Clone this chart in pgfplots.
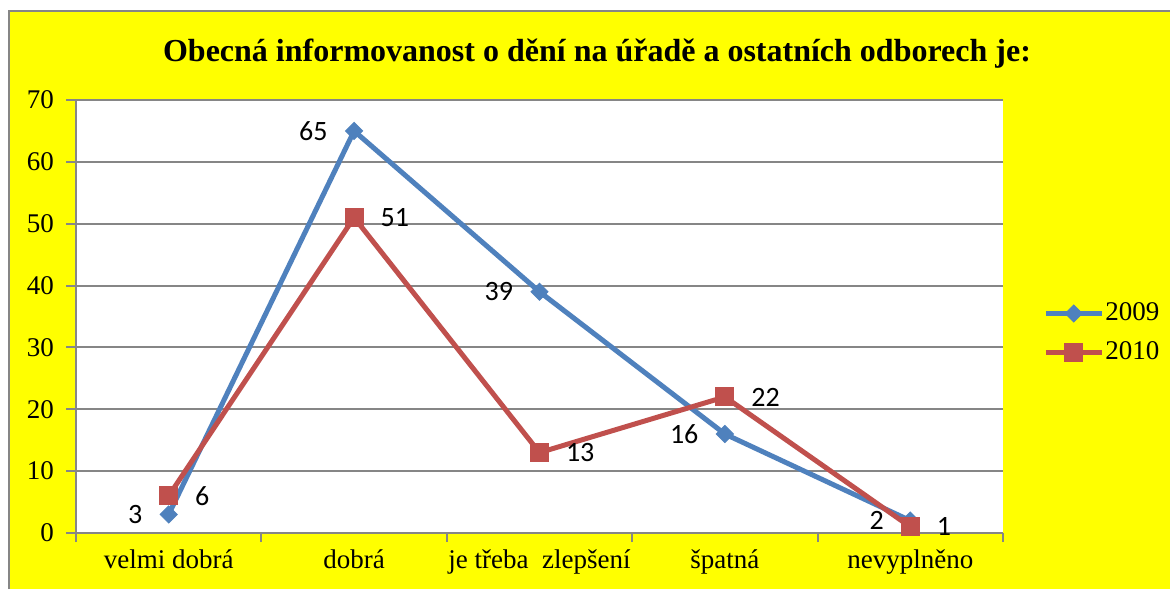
\documentclass[border=0pt]{standalone}
\usepackage{pgfplots}
\pgfplotsset{compat=1.18}
\usepackage{fontspec}
\setmainfont{Liberation Serif}
\newfontfamily\calibri{Carlito}
\definecolor{blue09}{HTML}{4F81BD}
\definecolor{red10}{HTML}{C0504D}
\definecolor{yel}{HTML}{FFFF00}
\definecolor{gridgray}{HTML}{868686}
\begin{document}
\begin{tikzpicture}[x=1pt,y=1pt]
% 1 px of the reference = 0.5pt, origin at the plot area's lower left corner
\useasboundingbox (-38,-28) rectangle (547,266.5);
\fill[yel] (-33.5,-28) rectangle (547,261);
\draw[gridgray, line width=0.8pt] (-33.5,-28) -- (-33.5,261) -- (547,261);
\begin{axis}[
    at={(0,0)}, anchor=south west,
    scale only axis, width=463.5pt, height=216.5pt,
    axis background/.style={fill=white},
    xmin=0, xmax=5, ymin=0, ymax=70,
    xtick={0.5,1.5,2.5,3.5,4.5},
    xticklabels={velmi dobrá, dobrá, je třeba\ \ zlepšení, špatná, nevyplněno},
    minor xtick={0,1,2,3,4,5},
    ytick={0,10,...,70},
    axis lines*=left,
    axis line style={gridgray, line width=1pt},
    ymajorgrids, grid style={gridgray, line width=1pt},
    tick align=outside,
    tick style={gridgray, line width=1pt},
    major tick length=5pt, minor tick length=4.5pt,
    major x tick style={draw=none},
    /pgf/number format/assume math mode=true,
    tick label style={font=\fontsize{13.5}{15}\selectfont, text=black},
    yticklabel style={xshift=-2.5pt},
    legend style={at={(1.043,0.462)}, anchor=west, draw=none, fill=none,
        font=\fontsize{13.5}{15}\selectfont, row sep=8pt, inner sep=0pt,
        nodes={inner sep=0.5pt}},
    legend cell align=left,
    legend image code/.code={\draw[mark repeat=2, mark phase=2]
        plot coordinates {(0pt,0pt) (14pt,0pt) (28pt,0pt)};},
    nodes near coords,
    clip=false,
]
\addplot[blue09, line width=2.5pt, mark=square*, mark size=3pt,
    mark options={rotate=45, solid, line width=0.5pt},
    every node near coord/.append style={anchor=east, xshift=-13pt,
        font=\calibri\fontsize{14}{16}\selectfont, text=black, inner sep=0pt}]
    coordinates {(0.5,3) (1.5,65) (2.5,39) (3.5,16) (4.5,2)};
\addlegendentry{2009}
\addplot[red10, line width=2.5pt, mark=square*, mark size=4.5pt,
    mark options={solid, line width=0.5pt},
    every node near coord/.append style={anchor=west, xshift=13pt,
        font=\calibri\fontsize{14}{16}\selectfont, text=black, inner sep=0pt}]
    coordinates {(0.5,6) (1.5,51) (2.5,13) (3.5,22) (4.5,1)};
\addlegendentry{2010}
\end{axis}
\node[anchor=base, font=\bfseries\fontsize{16}{19}\selectfont] at (260.5,235.5)
    {Obecná informovanost o dění na úřadě a ostatních odborech je:};
\end{tikzpicture}
\end{document}
